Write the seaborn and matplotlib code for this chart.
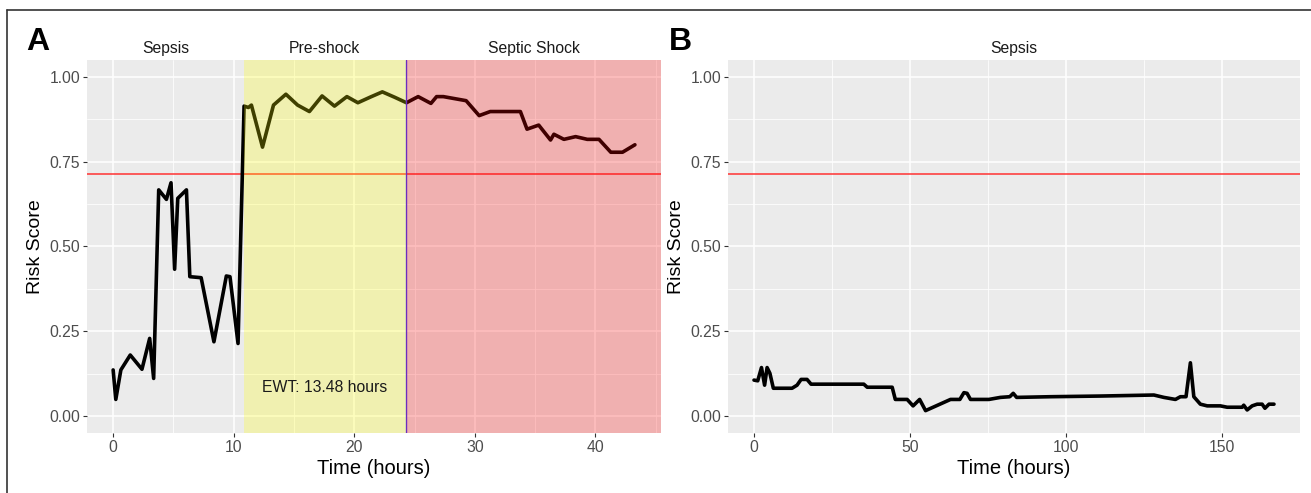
import numpy as np
import pandas as pd
import matplotlib
matplotlib.use("Agg")
import matplotlib.pyplot as plt
from matplotlib.lines import Line2D
import seaborn as sns

# panel A: patient who progresses to septic shock
time_a = [0.0, 0.22, 0.64, 1.42, 2.39, 3.03, 3.36, 3.78, 4.42, 4.8, 5.1, 5.36, 6.08,
          6.36, 7.3, 8.36, 9.39, 9.69, 10.36, 10.86, 11.22, 11.47, 12.39, 13.3, 14.33,
          15.3, 16.28, 17.33, 18.36, 19.39, 20.3, 21.42, 22.33, 23.36, 24.33, 25.3,
          26.36, 26.83, 27.39, 29.28, 30.36, 31.28, 33.78, 34.33, 35.3, 36.28, 36.56,
          37.39, 38.36, 39.33, 40.3, 41.28, 42.25, 43.28]
risk_a = [0.136, 0.049, 0.136, 0.18, 0.138, 0.229, 0.111, 0.667, 0.639, 0.688, 0.433,
          0.642, 0.667, 0.411, 0.408, 0.219, 0.413, 0.411, 0.214, 0.914, 0.91, 0.917,
          0.793, 0.917, 0.949, 0.917, 0.898, 0.944, 0.914, 0.942, 0.924, 0.942, 0.956,
          0.94, 0.924, 0.942, 0.922, 0.942, 0.942, 0.93, 0.886, 0.898, 0.898, 0.846,
          0.858, 0.814, 0.831, 0.816, 0.824, 0.816, 0.816, 0.778, 0.778, 0.80]

# panel B: patient who stays in sepsis
time_b = [0.0, 1.2, 2.4, 3.4, 4.2, 5.1, 6.2, 12.2, 13.8, 15.1, 17.0, 18.3, 35.2, 36.3,
          44.3, 45.3, 49.1, 51.0, 53.1, 55.0, 63.0, 66.0, 67.3, 68.3, 69.4, 75.3, 79.0,
          82.0, 83.1, 84.2, 95.0, 111.1, 128.2, 131.4, 135.1, 136.7, 138.5, 139.9, 141.0,
          143.1, 145.3, 149.5, 151.7, 156.5, 157.0, 158.1, 159.7, 161.3, 162.9, 163.8,
          165.1, 166.7]
risk_b = [0.106, 0.104, 0.143, 0.091, 0.143, 0.126, 0.082, 0.082, 0.091, 0.108, 0.108,
          0.094, 0.094, 0.085, 0.085, 0.049, 0.049, 0.03, 0.049, 0.016, 0.049, 0.049,
          0.069, 0.067, 0.049, 0.049, 0.055, 0.057, 0.067, 0.055, 0.057, 0.059, 0.062,
          0.055, 0.049, 0.057, 0.057, 0.157, 0.057, 0.035, 0.03, 0.03, 0.026, 0.026,
          0.032, 0.018, 0.03, 0.035, 0.035, 0.023, 0.035, 0.035]

threshold = 0.714
shock_onset = 24.3
ewt = 13.48
preshock_start = shock_onset - ewt

df_a = pd.DataFrame({"time": time_a, "risk": risk_a})
df_b = pd.DataFrame({"time": time_b, "risk": risk_b})

sns.set_theme(style="darkgrid", rc={
    "axes.facecolor": "#EBEBEB",
    "grid.color": "white",
    "axes.edgecolor": "#EBEBEB",
    "xtick.color": "#4D4D4D",
    "ytick.color": "#4D4D4D",
    "xtick.bottom": True,
    "ytick.left": True,
    "xtick.major.size": 3,
    "ytick.major.size": 3,
})
plt.rcParams["font.family"] = ["Liberation Sans", "DejaVu Sans"]

fig = plt.figure(figsize=(13.11, 4.93), dpi=100)
ax_a = fig.add_axes([0.0664, 0.1217, 0.4378, 0.7566])
ax_b = fig.add_axes([0.5553, 0.1217, 0.4363, 0.7566])


def style_axis(ax, xmax, xmajor, xminor):
    span = xmax
    ax.set_xlim(-0.05 * span, xmax + 0.05 * span)
    ax.set_ylim(-0.05, 1.05)
    ax.set_xticks(xmajor)
    ax.set_xticks(xminor, minor=True)
    ax.set_yticks([0, 0.25, 0.5, 0.75, 1.0])
    ax.set_yticklabels(["0.00", "0.25", "0.50", "0.75", "1.00"])
    ax.set_yticks([0.125, 0.375, 0.625, 0.875], minor=True)
    ax.grid(which="major", color="white", linewidth=1.1)
    ax.grid(which="minor", color="white", linewidth=0.55)
    ax.tick_params(axis="both", which="major", labelsize=11.3, length=3, width=0.8,
                   color="#333333", labelcolor="#4D4D4D", pad=2)
    ax.tick_params(axis="both", which="minor", length=0)
    ax.set_xlabel("Time (hours)", fontsize=14.5, color="black", labelpad=3)
    ax.set_ylabel("Risk Score", fontsize=14, color="black", labelpad=4)
    for s in ax.spines.values():
        s.set_visible(False)


# panel A
ax_a.axhline(threshold, color="#FF3333", linewidth=1.1, zorder=2)
sns.lineplot(data=df_a, x="time", y="risk", ax=ax_a, color="black", linewidth=2.6,
             estimator=None, sort=False, zorder=3)
ax_a.axvline(shock_onset, color="#3B3BFF", linewidth=1.0, zorder=4)
ax_a.axvspan(preshock_start, shock_onset, color="#FFFF00", alpha=0.25, linewidth=0, zorder=5)
ax_a.axvspan(shock_onset, 100, color="#FF0000", alpha=0.25, linewidth=0, zorder=5)
style_axis(ax_a, max(time_a), [0, 10, 20, 30, 40], [5, 15, 25, 35, 45])
ax_a.text((preshock_start + shock_onset) / 2, 0.083, "EWT: 13.48 hours",
          ha="center", va="center", fontsize=11.3, color="#1A1A1A", zorder=6)
xmin_a, xmax_a = ax_a.get_xlim()
ax_a.text((xmin_a + preshock_start) / 2, 1.085, "Sepsis", ha="center", va="center",
          fontsize=11.3, color="#1A1A1A", clip_on=False)
ax_a.text((preshock_start + shock_onset) / 2, 1.085, "Pre-shock", ha="center",
          va="center", fontsize=11.3, color="#1A1A1A", clip_on=False)
ax_a.text((shock_onset + xmax_a) / 2, 1.085, "Septic Shock", ha="center", va="center",
          fontsize=11.3, color="#1A1A1A", clip_on=False)

# panel B
ax_b.axhline(threshold, color="#FF3333", linewidth=1.1, zorder=2)
sns.lineplot(data=df_b, x="time", y="risk", ax=ax_b, color="black", linewidth=2.6,
             estimator=None, sort=False, zorder=3)
style_axis(ax_b, max(time_b), [0, 50, 100, 150], [25, 75, 125, 175])
xmin_b, xmax_b = ax_b.get_xlim()
ax_b.text((xmin_b + xmax_b) / 2, 1.085, "Sepsis", ha="center", va="center",
          fontsize=11.3, color="#1A1A1A", clip_on=False)

# panel letters and outer frame
fig.text(0.029, 0.915, "A", fontsize=23, fontweight="bold", ha="center", va="center",
         color="black")
fig.text(0.519, 0.915, "B", fontsize=23, fontweight="bold", ha="center", va="center",
         color="black")
fig.add_artist(Line2D([0.0055, 1.0], [0.979, 0.979], color="#333333", linewidth=1.2,
                      transform=fig.transFigure))
fig.add_artist(Line2D([0.0055, 0.0055], [0.0, 0.979], color="#333333", linewidth=1.2,
                      transform=fig.transFigure))

fig.savefig("out.png", dpi=100)
